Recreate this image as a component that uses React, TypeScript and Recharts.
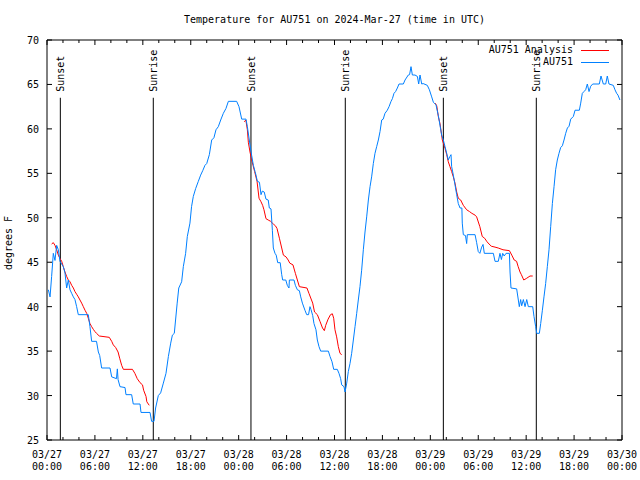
import { LineChart, Line, XAxis, YAxis, ReferenceLine, ReferenceArea, Legend } from 'recharts';

// hours since 03/27 00:00 UTC
const obsHours = [
	0.17, 0.38, 0.58, 0.79, 1.0, 1.21, 1.42, 1.63, 2.04, 2.25, 2.46, 2.67, 2.88, 3.09, 3.3, 3.5, 3.71, 3.92,
	5.17, 5.38, 5.59, 6.2, 6.43, 6.6, 6.84, 7.89, 8.1, 8.7, 8.81, 8.9, 9.14, 9.77, 9.89, 10.6, 10.8, 11.65,
	11.77, 12.9, 13.1, 13.4, 13.6, 13.94, 14.23, 14.57, 14.9, 15.2, 15.49, 15.7, 15.94, 16.1, 16.3, 16.5,
	16.86, 17.07, 17.36, 17.57, 17.9, 18.1, 18.32, 18.62, 18.95, 19.24, 19.5, 19.78, 20.0, 20.33, 20.62,
	20.9, 21.16, 21.45, 21.75, 22.08, 22.41, 22.71, 23.75, 24.04, 24.38, 24.92, 25.09, 25.42, 25.63, 25.84,
	26.05, 26.17, 26.34, 26.6, 26.8, 26.96, 27.2, 27.42, 27.7, 27.84, 28.05, 28.22, 28.34, 28.55, 28.7,
	28.89, 29.2, 29.39, 29.51, 29.9, 30.09, 30.3, 30.35, 30.93, 31.1, 31.35, 31.6, 31.77, 31.98, 32.3,
	32.52, 32.75, 32.93, 33.05, 33.27, 33.43, 33.68, 33.85, 34.06, 34.27, 35.23, 35.44, 35.69, 35.9, 36.35,
	36.56, 36.77, 36.9, 37.19, 37.32, 37.53, 37.73, 37.94, 38.15, 38.36, 38.57, 38.78, 38.98, 39.19, 39.4,
	39.61, 39.82, 40.03, 40.24, 40.45, 40.65, 40.86, 41.07, 41.28, 41.49, 41.7, 41.91, 42.1, 42.32, 42.61,
	42.83, 43.08, 43.25, 43.45, 43.65, 43.87, 44.08, 44.62, 44.83, 45.24, 45.4, 45.58, 45.75, 46.08, 46.38,
	46.54, 46.71, 46.92, 47.1, 47.62, 47.88, 48.17, 48.38, 48.71, 49.0, 49.21, 49.42, 49.63, 49.84, 50.05,
	50.25, 50.45, 50.59, 50.67, 50.88, 51.09, 51.3, 51.5, 51.72, 51.95, 52.0, 52.13, 52.4, 52.55, 52.63,
	53.6, 53.8, 54.0, 54.2, 54.43, 54.6, 54.76, 55.89, 56.1, 56.51, 56.72, 56.9, 57.06, 57.25, 57.48, 57.9,
	57.98, 58.1, 58.81, 59.02, 59.14, 59.31, 59.44, 59.65, 59.86, 60.07, 60.27, 60.82, 60.98, 61.19, 61.32,
	61.65, 61.82, 62.03, 62.23, 62.44, 62.65, 62.86, 63.07, 63.28, 63.49, 63.69, 63.9, 64.11, 64.32, 64.53,
	64.74, 64.95, 65.16, 65.37, 65.58, 65.91, 66.12, 66.66, 66.83, 67.03, 67.24, 67.45, 67.66, 67.87, 68.08,
	68.33, 69.16, 69.37, 69.66, 69.96, 70.16, 70.37, 70.91, 71.12, 71.33, 71.5, 71.74,
];
const obsTemps = [
	41.9, 41.1, 43.4, 46.0, 45.2, 46.9, 46.4, 45.1, 44.5, 43.8, 42.1, 43.0, 41.9, 41.5, 41.1, 40.8, 40.0, 39.1,
	39.1, 37.75, 36.1, 36.1, 34.9, 34.5, 33.1, 33.1, 32.1, 31.9, 33.0, 31.8, 31.0, 30.9, 30.1, 30.1, 29.05, 29.05,
	28.1, 28.1, 27.1, 27.1, 28.6, 30.0, 30.3, 31.4, 32.5, 34.4, 35.9, 36.8, 37.0, 38.5, 40.4, 42.1,
	42.8, 44.5, 46.0, 47.9, 49.4, 51.25, 52.4, 53.3, 54.1, 54.8, 55.3, 55.9, 56.1, 57.1, 58.75,
	59.0, 59.9, 60.25, 61.0, 61.75, 62.3, 63.1, 63.1, 62.5, 61.1, 61.1, 60.25, 58.2, 57.0, 55.9,
	55.2, 54.8, 54.1, 54.0, 52.6, 53.0, 52.9, 52.1, 52.0, 51.1, 51.0, 48.6, 46.6, 46.0, 45.8,
	44.95, 44.95, 43.6, 43.0, 43.0, 42.4, 42.1, 43.0, 43.0, 42.4, 41.9, 41.8, 41.1, 40.4, 39.6,
	39.1, 39.1, 40.0, 39.7, 39.0, 38.1, 37.4, 36.25, 35.5, 35.0, 35.0, 34.4, 33.8, 32.95, 32.95,
	32.5, 31.9, 31.2, 31.0, 30.4, 31.4, 32.7, 33.6, 34.75, 36.25, 37.75, 39.25, 40.75, 42.25, 44.1,
	46.4, 48.4, 50.1, 52.0, 53.5, 54.6, 56.1, 57.25, 58.0, 58.75, 59.7, 61.0, 61.1, 61.75, 62.1,
	62.5, 63.1, 63.4, 64.0, 64.2, 64.6, 65.05, 65.05, 65.5, 66.06, 66.1, 67.0, 66.06, 66.06, 65.9,
	65.05, 66.06, 65.05, 65.1, 64.9, 64.4, 63.6, 63.0, 62.7, 61.5, 60.4, 59.3, 58.75, 58.0, 57.25,
	56.5, 56.9, 57.1, 55.75, 54.8, 53.7, 52.6, 51.6, 51.1, 51.1, 49.4, 48.1, 48.0, 47.1, 48.1,
	48.1, 47.2, 46.2, 46.0, 46.7, 47.0, 46.0, 46.0, 45.1, 45.1, 46.0, 45.3, 46.0, 45.7, 46.0, 46.0,
	43.9, 42.1, 42.0, 40.75, 40.0, 40.8, 40.1, 40.8, 40.0, 40.8, 40.0, 40.0, 38.9, 37.75, 37.0,
	37.0, 38.1, 39.6, 41.1, 42.6, 44.5, 46.4, 49.0, 51.6, 53.5, 55.4, 56.5, 57.25, 57.9, 58.1,
	58.75, 59.5, 60.1, 60.3, 61.1, 61.4, 62.1, 62.1, 62.9, 64.0, 64.2, 64.4, 65.05, 64.2, 64.8,
	65.05, 65.05, 65.95, 65.05, 65.05, 65.95, 65.05, 64.9, 64.4, 64.0, 63.8, 63.25,
];

// analysis runs, null marks a gap between runs
const anaHours = [
	0.58, 0.79, 1.0, 1.21, 1.42, 1.63, 1.84, 2.04, 2.25, 2.46, 2.67, 2.88, 3.09, 3.3, 3.5, 3.71, 3.92, 4.13,
	4.34, 4.55, 4.76, 4.97, 5.17, 5.38, 5.59, 5.8, 6.0, 6.2, 6.55, 7.8, 8.1, 8.3, 8.6, 8.9, 9.1, 9.35, 9.56,
	10.7, 11.0, 11.3, 11.65, 11.96, 12.1, 12.4, 12.5, 12.8,
	18.0,
	24.7, 24.9, 25.09, 25.21, 25.42, 25.63, 25.8, 26.0, 26.3, 26.55, 26.8, 27.0, 27.17, 27.42, 27.7, 28.0,
	28.34, 28.6, 28.8, 29.1, 29.39, 29.6, 29.93, 30.2, 30.4, 30.8, 31.1, 31.35, 31.6, 32.55, 32.8, 33.27,
	33.5, 33.85, 34.2, 34.5, 34.73, 34.9, 35.2, 35.5, 35.73, 35.9, 36.06, 36.27, 36.48, 36.69, 36.9,
	42.0,
	48.6, 48.8, 49.0, 49.21, 49.5, 49.84, 50.05, 50.25, 50.46, 50.67, 50.88, 51.09, 51.3, 51.5, 51.8, 52.13,
	52.55, 52.9, 53.2, 53.6, 53.8, 54.2, 54.5, 54.8, 55.1, 55.35, 55.64, 56.1, 56.5, 57.1, 57.9, 58.2, 58.5,
	58.8, 59.0, 59.23, 59.4, 59.7, 60.07, 60.48, 60.82,
];
const anaTemps = [
	47.05, 47.2, 46.9, 46.4, 45.8, 45.4, 45.1, 44.5, 43.9, 43.4, 43.0, 42.8, 42.4, 42.1, 41.7, 41.4, 41.1, 40.75,
	40.4, 40.0, 39.6, 39.25, 38.7, 38.1, 37.75, 37.45, 37.2, 37.0, 36.7, 36.55, 36.1, 35.7, 35.4, 34.9, 34.2, 33.4, 32.95,
	32.95, 32.5, 31.9, 31.45, 31.2, 30.6, 29.9, 29.3, 28.9,
	null,
	60.8, 61.0, 59.9, 58.5, 57.4, 56.5, 55.9, 55.2, 54.1, 52.2, 51.8, 51.4, 50.9, 49.9, 49.75, 49.6,
	49.3, 49.1, 48.8, 47.7, 46.6, 45.8, 45.6, 45.25, 44.9, 44.7, 43.75, 43.0, 42.25, 42.1, 41.5, 40.4,
	39.4, 39.1, 38.3, 37.6, 37.3, 37.9, 38.6, 39.1, 39.2, 38.7, 37.4, 36.6, 35.5, 34.75, 34.6,
	null,
	62.9, 62.6, 61.4, 60.6, 58.75, 57.8, 57.1, 56.3, 55.75, 55.2, 54.6, 53.9, 52.9, 52.2, 52.0, 51.4,
	50.9, 50.7, 50.5, 50.3, 50.1, 49.0, 47.9, 47.7, 47.3, 47.05, 46.8, 46.7, 46.6, 46.4, 46.3, 45.8, 45.25,
	45.1, 44.5, 43.9, 43.6, 43.0, 43.2, 43.45, 43.45,
];

const eventHours = [1.67, 13.31, 25.54, 37.35, 49.63, 61.27];
const eventNames = ['Sunset', 'Sunrise', 'Sunset', 'Sunrise', 'Sunset', 'Sunrise'];
const eventTop = 63.5;

const xTicks = [
	0, 2, 4, 6, 8, 10, 12, 14, 16, 18, 20, 22, 24, 26, 28, 30, 32, 34, 36, 38, 40, 42, 44, 46, 48, 50, 52,
	54, 56, 58, 60, 62, 64, 66, 68, 70, 72,
];
const majorHours = [0, 6, 12, 18, 24, 30, 36, 42, 48, 54, 60, 66, 72];
const tickDates = ['03/27', '03/27', '03/27', '03/27', '03/28', '03/28', '03/28', '03/28', '03/29', '03/29', '03/29', '03/29', '03/30'];
const tickTimes = ['00:00', '06:00', '12:00', '18:00', '00:00', '06:00', '12:00', '18:00', '00:00', '06:00', '12:00', '18:00', '00:00'];
const yTicks = [25, 30, 35, 40, 45, 50, 55, 60, 65, 70];
const legendOrder = ['AU751 Analysis', 'AU751'];

const obsData = obsHours.map((h, i) => ({ h, t: obsTemps[i] }));
const anaData = anaHours.map((h, i) => ({ h, t: anaTemps[i] }));

const FONT = '"DejaVu Sans Mono", "Liberation Mono", monospace';
const PLOT_TOP = 40;
const PLOT_RIGHT = 622;

function XTick({ x, y, payload }: any) {
	const idx = majorHours.indexOf(payload.value);
	const len = idx >= 0 ? 5 : 3;
	return (
		<g>
			<line x1={x} y1={y} x2={x} y2={y - len} stroke='#000' />
			<line x1={x} y1={PLOT_TOP} x2={x} y2={PLOT_TOP + len} stroke='#000' />
			{idx >= 0 && (
				<text x={x} y={y} textAnchor='middle' fontFamily={FONT} fontSize={10} fill='#000'>
					<tspan x={x} dy={18}>{tickDates[idx]}</tspan>
					<tspan x={x} dy={12}>{tickTimes[idx]}</tspan>
				</text>
			)}
		</g>
	);
}

function YTick({ x, y, payload }: any) {
	return (
		<g>
			<line x1={x} y1={y} x2={x + 5} y2={y} stroke='#000' />
			<line x1={PLOT_RIGHT - 5} y1={y} x2={PLOT_RIGHT} y2={y} stroke='#000' />
			<text x={x - 8} y={y + 4} textAnchor='end' fontFamily={FONT} fontSize={10} fill='#000'>
				{payload.value}
			</text>
		</g>
	);
}

function EventLabel({ viewBox, name }: any) {
	const x = viewBox.x + 4;
	const y = viewBox.y - 6;
	return (
		<text x={x} y={y} transform={`rotate(-90, ${x}, ${y})`} fontFamily={FONT} fontSize={10} fill='#000'>
			{name}
		</text>
	);
}

function YLabel({ viewBox }: any) {
	const x = 12;
	const y = viewBox.y + viewBox.height / 2 + 3;
	return (
		<text x={x} y={y} transform={`rotate(-90, ${x}, ${y})`} textAnchor='middle' fontFamily={FONT} fontSize={10} fill='#000'>
			degrees F
		</text>
	);
}

function LegendBox({ payload }: any) {
	const items = [...(payload || [])].sort(
		(a: any, b: any) => legendOrder.indexOf(a.value) - legendOrder.indexOf(b.value),
	);
	return (
		<div style={{ fontFamily: FONT, fontSize: 10, lineHeight: '12px', color: '#000' }}>
			{items.map((p: any) => (
				<div key={p.value} style={{ display: 'flex', justifyContent: 'flex-end', alignItems: 'center', height: 12 }}>
					<span>{p.value}</span>
					<span style={{ display: 'inline-block', width: 28, height: 1, background: p.color, marginLeft: 8 }} />
				</div>
			))}
		</div>
	);
}

export default function App() {
	return (
		<div style={{ position: 'absolute', left: 0, top: 0, width: 640, height: 480, background: '#fff' }}>
			<div
				style={{
					position: 'absolute',
					left: 0,
					top: 14,
					width: 669,
					textAlign: 'center',
					fontFamily: FONT,
					fontSize: 10,
					lineHeight: '12px',
				}}
			>
				Temperature for AU751 on 2024-Mar-27 (time in UTC)
			</div>
			<LineChart width={640} height={480} margin={{ top: 40, right: 18, bottom: 0, left: 0 }}>
				<XAxis
					dataKey='h'
					type='number'
					domain={[0, 72]}
					ticks={xTicks}
					interval={0}
					allowDataOverflow
					height={40}
					tickSize={0}
					tickMargin={0}
					axisLine={false}
					tickLine={false}
					tick={<XTick />}
				/>
				<YAxis
					type='number'
					domain={[25, 70]}
					ticks={yTicks}
					interval={0}
					allowDataOverflow
					width={47}
					tickSize={0}
					tickMargin={0}
					axisLine={false}
					tickLine={false}
					tick={<YTick />}
					label={<YLabel />}
				/>
				<ReferenceArea x1={0} x2={72} y1={25} y2={70} fill='none' stroke='#000' strokeWidth={1} />
				{eventHours.map((h, i) => (
					<ReferenceLine
						key={h}
						segment={[
							{ x: h, y: 25 },
							{ x: h, y: eventTop },
						]}
						stroke='#000'
						strokeWidth={1}
						label={<EventLabel name={eventNames[i]} />}
					/>
				))}
				<Line
					data={anaData}
					dataKey='t'
					name='AU751 Analysis'
					type='linear'
					stroke='#ff0000'
					strokeWidth={1}
					dot={false}
					activeDot={false}
					connectNulls={false}
					isAnimationActive={false}
				/>
				<Line
					data={obsData}
					dataKey='t'
					name='AU751'
					type='linear'
					stroke='#0080ff'
					strokeWidth={1}
					dot={false}
					activeDot={false}
					isAnimationActive={false}
				/>
				<Legend
					layout='vertical'
					align='center'
					verticalAlign='middle'
					content={<LegendBox />}
					wrapperStyle={{ position: 'absolute', top: 44, right: 31, left: 'auto', bottom: 'auto', width: 'auto', height: 'auto' }}
				/>
			</LineChart>
		</div>
	);
}
